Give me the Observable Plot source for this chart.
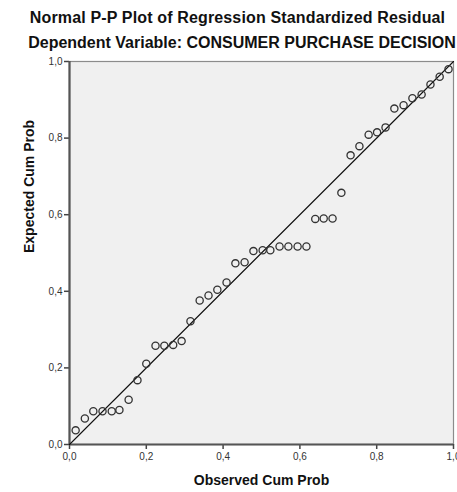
<!DOCTYPE html>
<html>
<head>
<meta charset="utf-8">
<script src="https://cdn.jsdelivr.net/npm/d3@7"></script>
<script src="https://cdn.jsdelivr.net/npm/@observablehq/plot@0.6"></script>
<style>
  body { margin: 0; background: #fff; font-family: "Liberation Sans", Arial, sans-serif; }
  #wrap { width: 457px; }
  .t { font-weight: bold; font-size: 16px; line-height: 16px; color: #111; text-align: center; white-space: nowrap; }
  #t1 { position: absolute; top: 10px; left: 0; width: 475px; letter-spacing: 0.15px; }
  #t2 { position: absolute; top: 35px; left: 0; width: 484px; }
  #chart { position: absolute; top: 56px; left: 0; }
</style>
</head>
<body>
<div id="wrap">
  <div id="t1" class="t"></div>
  <div id="t2" class="t"></div>
  <div id="chart"></div>
</div>
<script>
const title = "Normal P-P Plot of Regression Standardized Residual";
const subtitle = "Dependent Variable: CONSUMER PURCHASE DECISION";
const xLabel = "Observed Cum Prob";
const yLabel = "Expected Cum Prob";
const tickValues = [0, 0.2, 0.4, 0.6, 0.8, 1.0];
const tickLabels = ["0,0", "0,2", "0,4", "0,6", "0,8", "1,0"];
const referenceLine = [0, 1];

const observed = [0.016, 0.040, 0.062, 0.086, 0.110, 0.130, 0.154, 0.177, 0.200, 0.224,
  0.247, 0.270, 0.292, 0.315, 0.339, 0.362, 0.385, 0.409, 0.432, 0.456,
  0.479, 0.503, 0.523, 0.547, 0.570, 0.594, 0.617, 0.640, 0.662, 0.685,
  0.708, 0.732, 0.755, 0.779, 0.801, 0.823, 0.846, 0.870, 0.893, 0.917,
  0.940, 0.964, 0.987];
const expected = [0.037, 0.068, 0.087, 0.087, 0.087, 0.090, 0.117, 0.168, 0.211, 0.258,
  0.258, 0.260, 0.270, 0.322, 0.376, 0.389, 0.404, 0.423, 0.473, 0.476,
  0.505, 0.507, 0.507, 0.517, 0.517, 0.517, 0.517, 0.589, 0.590, 0.590,
  0.657, 0.755, 0.779, 0.809, 0.815, 0.828, 0.877, 0.886, 0.904, 0.914,
  0.940, 0.960, 0.980];

const points = observed.map((x, i) => ({x, y: expected[i]}));
const fmt = d => tickLabels[tickValues.findIndex(v => Math.abs(v - d) < 1e-9)];

document.getElementById("t1").textContent = title;
document.getElementById("t2").textContent = subtitle;

const chart = Plot.plot({
  width: 457,
  height: 436,
  marginTop: 5,
  marginBottom: 48,
  marginLeft: 69,
  marginRight: 4,
  style: { background: "transparent", fontFamily: "'Liberation Sans', Arial, sans-serif", fontSize: "10px", color: "#333" },
  x: { domain: [0, 1] },
  y: { domain: [0, 1] },
  marks: [
    Plot.frame({ fill: "#f0f0f0", stroke: "#8c8c8c", strokeWidth: 1.2 }),
    Plot.axisX({ ticks: tickValues, tickFormat: fmt, tickSize: 5, tickPadding: 3, label: null, stroke: "#444", strokeWidth: 1.5 }),
    Plot.axisY({ ticks: tickValues, tickFormat: fmt, tickSize: 5, tickPadding: 2, label: null, stroke: "#444", strokeWidth: 1.5 }),
    Plot.ruleX([0], { stroke: "#555", strokeWidth: 2.2 }),
    Plot.ruleY([0], { stroke: "#555", strokeWidth: 2.2 }),
    Plot.line(referenceLine, { x: d => d, y: d => d, stroke: "#111", strokeWidth: 1.1 }),
    Plot.dot(points, { x: "x", y: "y", r: 3.6, stroke: "#333", strokeWidth: 1.3, fill: "none" }),
    Plot.text([xLabel], { frameAnchor: "bottom", dy: 40, fontWeight: "bold", fontSize: 14, fill: "#111" }),
    Plot.text([yLabel], { frameAnchor: "left", dx: -40, rotate: -90, fontWeight: "bold", fontSize: 14, fill: "#111" })
  ]
});
document.getElementById("chart").appendChild(chart);
</script>
</body>
</html>
